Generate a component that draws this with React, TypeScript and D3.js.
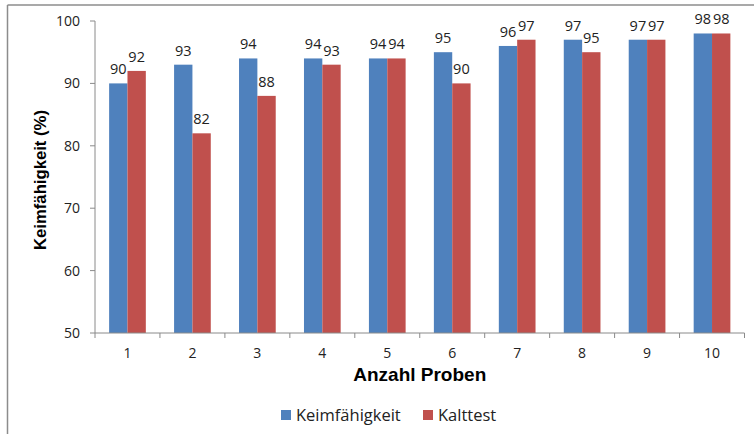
import React from "react";
import * as d3 from "d3";

const categories = ["1", "2", "3", "4", "5", "6", "7", "8", "9", "10"];
const keimfaehigkeit = [90, 93, 94, 94, 94, 95, 96, 97, 97, 98];
const kalttest = [92, 82, 88, 93, 94, 90, 97, 95, 97, 98];
const seriesNames = ["Keimfähigkeit", "Kalttest"];
const seriesColors = ["#4F81BD", "#C0504D"];
const yTicks = [50, 60, 70, 80, 90, 100];

const W = 754;
const H = 434;
const plot = { left: 95, right: 744.5, top: 21, bottom: 333 };
const axisColor = "#8a8a8a";
const tickFont = "'Open Sans', 'DejaVu Sans', sans-serif";
const titleFont = "'Liberation Sans', Arial, sans-serif";

export default function App() {
  const x = d3
    .scaleBand<string>()
    .domain(categories)
    .range([plot.left, plot.right])
    .paddingInner(0)
    .paddingOuter(0);
  const inner = d3
    .scaleBand<number>()
    .domain([0, 1])
    .range([0, x.bandwidth()])
    .paddingInner(0)
    .paddingOuter(0.77);
  const y = d3.scaleLinear().domain([50, 100]).range([plot.bottom, plot.top]);

  const series = [keimfaehigkeit, kalttest];
  const boundaries = categories.map((c) => x(c) as number).concat([plot.right]);

  return (
    <svg
      width={W}
      height={H}
      style={{ position: "absolute", left: 0, top: 0, background: "#fff" }}
    >
      {/* outer frame (top and left edges visible) */}
      <line x1={7.5} x2={W} y1={5} y2={5} stroke="#8c8c8c" strokeWidth={1.5} />
      <line x1={7.5} x2={7.5} y1={5} y2={H} stroke="#8c8c8c" strokeWidth={1.5} />

      {/* y axis */}
      <line x1={plot.left} x2={plot.left} y1={plot.top} y2={plot.bottom} stroke={axisColor} />
      {yTicks.map((t) => (
        <g key={t}>
          <line x1={plot.left - 5} x2={plot.left} y1={y(t)} y2={y(t)} stroke={axisColor} />
          <text
            x={plot.left - 15}
            y={y(t)}
            dy="0.35em"
            textAnchor="end"
            fontFamily={tickFont}
            fontSize={14}
            fill="#222"
          >
            {t}
          </text>
        </g>
      ))}

      {/* bars */}
      {series.map((vals, si) =>
        vals.map((v, i) => {
          const bx = (x(categories[i]) as number) + (inner(si) as number);
          return (
            <rect
              key={`${si}-${i}`}
              x={bx}
              y={y(v)}
              width={inner.bandwidth()}
              height={y(50) - y(v)}
              fill={seriesColors[si]}
            />
          );
        })
      )}

      {/* value labels */}
      {series.map((vals, si) =>
        vals.map((v, i) => {
          const cx = (x(categories[i]) as number) + (inner(si) as number) + inner.bandwidth() / 2;
          return (
            <text
              key={`l${si}-${i}`}
              x={cx}
              y={y(v) - 9}
              textAnchor="middle"
              fontFamily={tickFont}
              fontSize={14.5}
              fill="#222"
            >
              {v}
            </text>
          );
        })
      )}

      {/* x axis */}
      <line x1={plot.left} x2={plot.right} y1={plot.bottom} y2={plot.bottom} stroke={axisColor} />
      {boundaries.map((bx, i) => (
        <line key={i} x1={bx} x2={bx} y1={plot.bottom} y2={plot.bottom + 5} stroke={axisColor} />
      ))}
      {categories.map((c) => (
        <text
          key={c}
          x={(x(c) as number) + x.bandwidth() / 2}
          y={353}
          dy="0.35em"
          textAnchor="middle"
          fontFamily={tickFont}
          fontSize={14}
          fill="#222"
        >
          {c}
        </text>
      ))}

      {/* axis titles */}
      <text
        x={(plot.left + plot.right) / 2}
        y={374}
        dy="0.35em"
        textAnchor="middle"
        fontFamily={titleFont}
        fontWeight="bold"
        fontSize={19}
        fill="#000"
      >
        Anzahl Proben
      </text>
      <text
        transform={`translate(40, 180) rotate(-90)`}
        dy="0.35em"
        textAnchor="middle"
        fontFamily={titleFont}
        fontWeight="bold"
        fontSize={16.7}
        fill="#000"
      >
        Keimfähigkeit (%)
      </text>

      {/* legend */}
      {[
        { x: 281, tx: 296 },
        { x: 423, tx: 438 },
      ].map((p, i) => (
        <g key={seriesNames[i]}>
          <rect x={p.x} y={410} width={10} height={10} fill={seriesColors[i]} />
          <text
            x={p.tx}
            y={415}
            dy="0.35em"
            fontFamily={tickFont}
            fontSize={16.5}
            fill="#222"
          >
            {seriesNames[i]}
          </text>
        </g>
      ))}
    </svg>
  );
}
